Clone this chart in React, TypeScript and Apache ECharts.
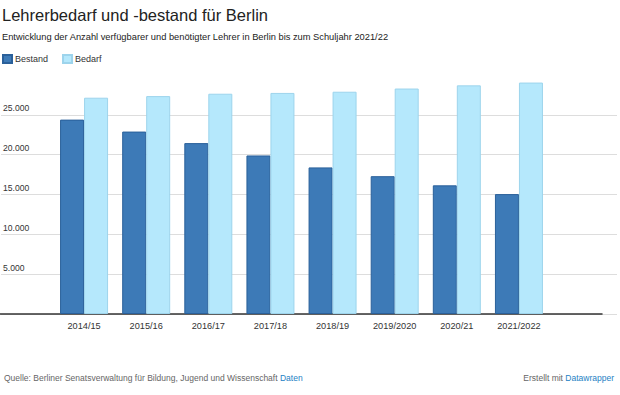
import React, { useEffect, useRef } from "react";
import * as echarts from "echarts";

const categories = ["2014/15", "2015/16", "2016/17", "2017/18", "2018/19", "2019/2020", "2020/21", "2021/2022"];
const bestand = [24400, 22900, 21450, 19900, 18400, 17300, 16150, 15050];
const bedarf = [27150, 27350, 27650, 27750, 27900, 28300, 28700, 29050];
const seriesNames = ["Bestand", "Bedarf"];
const titleText = "Lehrerbedarf und -bestand für Berlin";
const subtitleText = "Entwicklung der Anzahl verfügbarer und benötigter Lehrer in Berlin bis zum Schuljahr 2021/22";
const sourceText = "Quelle: Berliner Senatsverwaltung für Bildung, Jugend und Wissenschaft";
const sourceLink = "Daten";
const creditText = "Erstellt mit";
const creditLink = "Datawrapper";

const FONT = "'Liberation Sans', Arial, Helvetica, sans-serif";

function fmt(v: number): string {
  const s = String(Math.round(v));
  return s.replace(/\B(?=(\d{3})+(?!\d))/g, ".");
}

export default function App() {
  const ref = useRef<HTMLDivElement>(null);
  useEffect(() => {
    if (!ref.current) return;
    const chart = echarts.init(ref.current, undefined, { renderer: "svg" });
    const grid = "#dddddd";
    chart.setOption({
      animation: false,
      backgroundColor: "#ffffff",
      textStyle: { fontFamily: FONT },
      title: [
        {
          text: titleText,
          left: 2,
          top: 6,
          padding: 0,
          textStyle: { fontSize: 16.5, fontWeight: "normal", color: "#222", fontFamily: FONT },
        },
        {
          text: subtitleText,
          left: 2,
          top: 32,
          padding: 0,
          textStyle: { fontSize: 9.3, fontWeight: "normal", color: "#222", fontFamily: FONT },
        },
        {
          text: `${sourceText} {a|${sourceLink}}`,
          left: 4,
          top: 373.5,
          padding: 0,
          textStyle: {
            fontSize: 8.5,
            fontWeight: "normal",
            color: "#666",
            fontFamily: FONT,
            rich: { a: { color: "#1d81c4", fontSize: 8.5, fontFamily: FONT } },
          },
        },
        {
          text: `${creditText} {a|${creditLink}}`,
          right: 6,
          top: 373.5,
          padding: 0,
          textStyle: {
            fontSize: 8.5,
            fontWeight: "normal",
            color: "#666",
            fontFamily: FONT,
            rich: { a: { color: "#1d81c4", fontSize: 8.5, fontFamily: FONT } },
          },
        },
      ],
      legend: {
        left: 2,
        top: 54,
        padding: 0,
        itemWidth: 9,
        itemHeight: 8,
        itemGap: 14,
        icon: "rect",
        data: seriesNames,
        textStyle: { fontSize: 9, color: "#333", fontFamily: FONT, padding: [0, 0, 0, -2] },
      },
      grid: [
        { left: 0, right: 3, top: 75, bottom: 81 },
        { left: 0, right: 18, top: 75, bottom: 81 },
        { left: 53, right: 70, top: 75, bottom: 81 },
      ],
      xAxis: [
        { type: "value", gridIndex: 0, show: false, min: 0, max: 1 },
        {
          type: "value",
          gridIndex: 1,
          min: 0,
          max: 1,
          axisLine: { show: true, lineStyle: { color: "#333", width: 1.5 } },
          axisTick: { show: false },
          axisLabel: { show: false },
          splitLine: { show: false },
        },
        {
          type: "category",
          gridIndex: 2,
          data: categories,
          axisLine: { show: false },
          axisTick: { show: false },
          axisLabel: { color: "#333", fontSize: 9.2, margin: 7, interval: 0, fontFamily: FONT },
        },
      ],
      yAxis: [
        {
          type: "value",
          gridIndex: 0,
          min: 0,
          max: 30000,
          interval: 5000,
          axisLine: { show: false },
          axisTick: { show: false },
          axisLabel: {
            inside: true,
            margin: 2,
            showMinLabel: false,
            showMaxLabel: false,
            verticalAlign: "bottom",
            padding: [0, 0, 2, 0],
            color: "#333",
            fontSize: 8.6,
            fontFamily: FONT,
            formatter: (v: number) => fmt(v),
          },
          splitLine: {
            show: true,
            lineStyle: { color: [grid, grid, grid, grid, grid, grid, "rgba(0,0,0,0)"], width: 1 },
          },
        },
        { type: "value", gridIndex: 1, min: 0, max: 30000, show: false },
        { type: "value", gridIndex: 2, min: 0, max: 30000, show: false },
      ],
      series: [
        {
          name: seriesNames[0],
          type: "bar",
          xAxisIndex: 2,
          yAxisIndex: 2,
          data: bestand,
          barWidth: 24,
          barGap: "0%",
          itemStyle: { color: "#3d7ab7", borderColor: "#2a609a", borderWidth: 1 },
          z: 3,
        },
        {
          name: seriesNames[1],
          type: "bar",
          xAxisIndex: 2,
          yAxisIndex: 2,
          data: bedarf,
          barWidth: 24,
          barGap: "0%",
          itemStyle: { color: "#b5e8fc", borderColor: "#9dd4ec", borderWidth: 1 },
          z: 3,
        },
      ],
    });
    return () => chart.dispose();
  }, []);
  return (
    <div
      ref={ref}
      style={{ position: "fixed", left: 0, top: 0, width: 620, height: 395 }}
    />
  );
}
